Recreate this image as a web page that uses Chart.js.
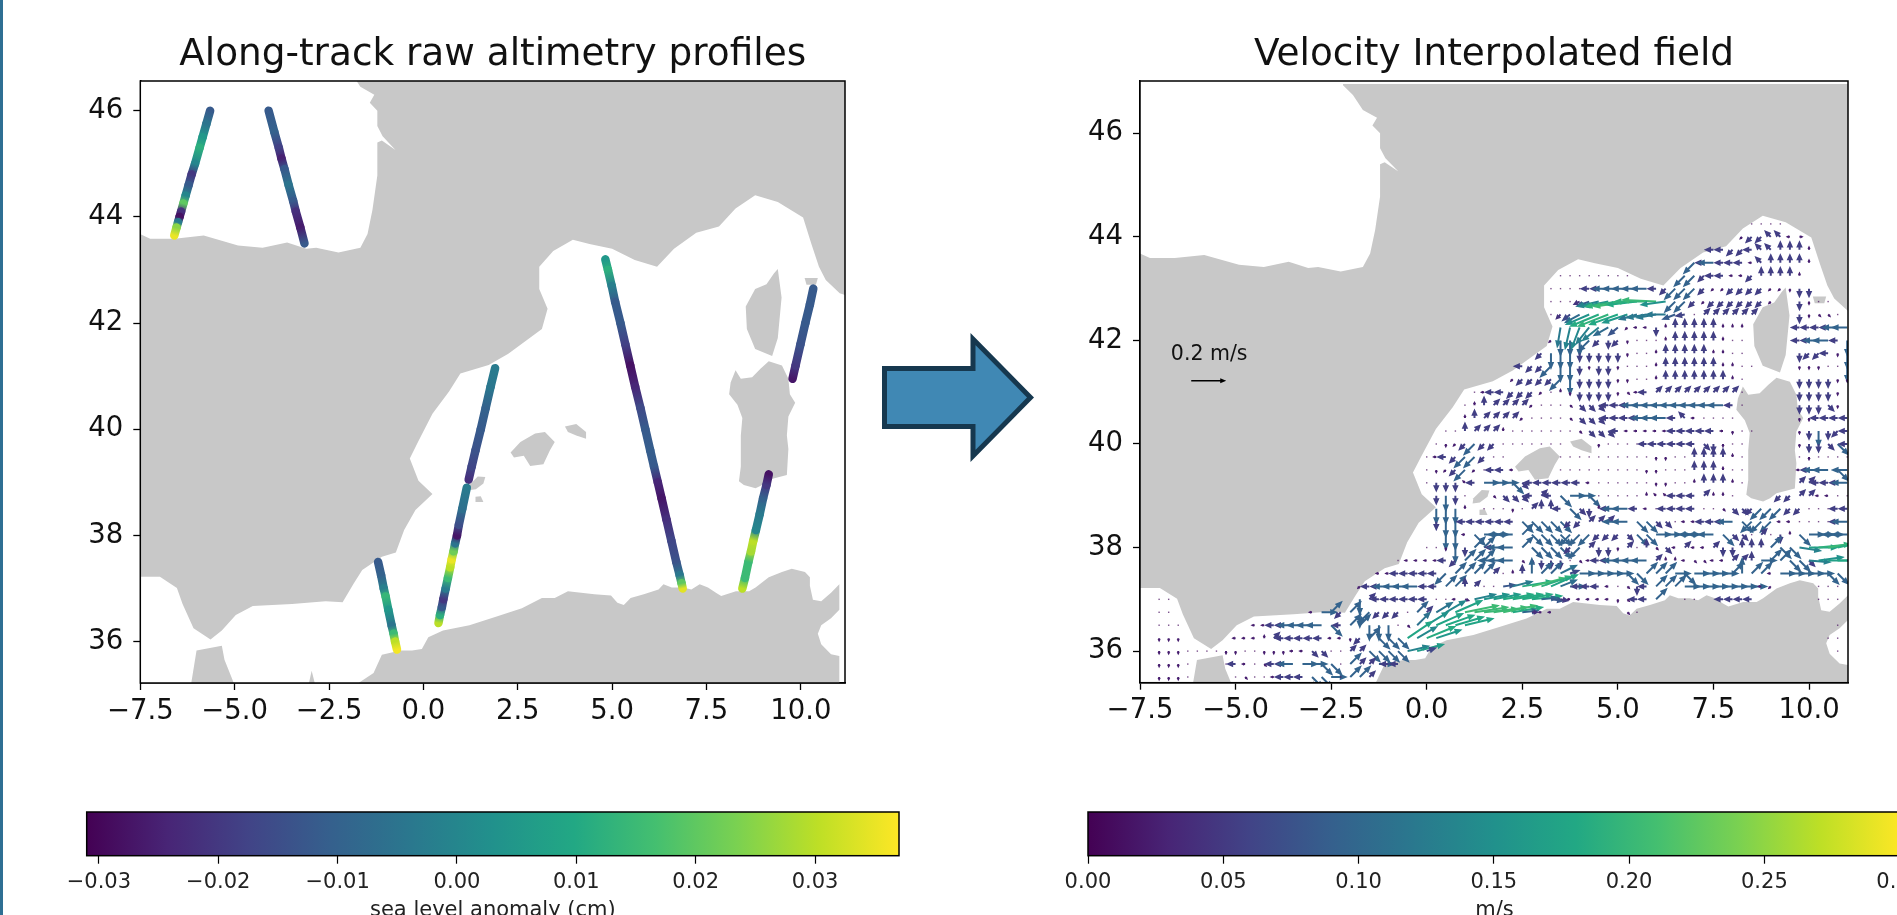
<!DOCTYPE html>
<html><head><meta charset="utf-8">
<style>
html,body{margin:0;padding:0;background:#fff;width:1897px;height:915px;overflow:hidden;position:relative}
canvas{position:absolute;filter:blur(0.6px)}
#mapR{filter:blur(0.75px)}
#edge{position:absolute;left:0;top:0;width:3px;height:915px;background:#2f6f93}
svg{position:absolute;left:0;top:0}
</style>
<script src="https://cdn.jsdelivr.net/npm/chart.js@4"></script>
</head><body>
<div id="edge"></div>
<canvas id="mapL"></canvas><canvas id="mapR"></canvas><canvas id="barL"></canvas><canvas id="barR"></canvas>
<svg width="1897" height="915"><path d="M884.5 368.5H973V339L1030.5 397.5L973 456V426.5H884.5Z" fill="#4088b4" stroke="#16384f" stroke-width="5"/></svg>
<script>
// ---------- text and ticks
const titleLeft = "Along-track raw altimetry profiles";
const titleRight = "Velocity Interpolated field";
const unitLeft = "sea level anomaly (cm)";
const unitRight = "m/s";
const lonTicks = [-7.5,-5,-2.5,0,2.5,5,7.5,10];
const latTicks = [36,38,40,42,44,46];
const slaTicks = [-0.03,-0.02,-0.01,0,0.01,0.02,0.03];
const speedTicks = [0,0.05,0.1,0.15,0.2,0.25,0.3];

// ---------- along-track profiles: lon, lat, sea level anomaly
const t1Lon=[-5.65,-5.75,-5.85,-5.93,-6.05,-6.14,-6.22,-6.30,-6.36,-6.42,-6.46,-6.5,-6.54,-6.6];
const t1Lat=[46,45.75,45.5,45.3,45,44.8,44.6,44.4,44.25,44.1,44,43.9,43.8,43.65];
const t1Sla=[-.012,-.005,.005,.012,0,-.02,-.012,0,.02,-.022,-.028,-.003,.025,.035];
const t2Lon=[-4.1,-3.95,-3.83,-3.76,-3.68,-3.57,-3.45,-3.38,-3.26,-3.15];
const t2Lat=[46,45.6,45.3,45.1,44.9,44.6,44.3,44.1,43.8,43.5];
const t2Sla=[-.012,-.01,-.018,-.025,-.012,-.005,-.012,-.022,-.026,-.012];
const t3Lon=[-1.2,-1.12,-1.05,-1,-.93,-.84,-.79,-.75,-.7];
const t3Lat=[37.5,37.25,37,36.85,36.6,36.3,36.15,36,35.85];
const t3Sla=[-.012,-.01,-.002,.014,.005,-.005,.015,.03,.036];
const t4Lon=[.4,.44,.49,.53,.59,.65,.71,.75,.8,.84,.89,.94,1.03,1.15];
const t4Lat=[36.35,36.5,36.65,36.8,37,37.2,37.4,37.55,37.7,37.85,38,38.2,38.5,38.9];
const t4Sla=[.03,.012,-.012,-.02,-.003,.015,.03,.035,.022,-.005,-.027,-.015,-.006,-.003];
const t5Lon=[1.2,1.28,1.38,1.52,1.65,1.78,1.9];
const t5Lat=[39.05,39.3,39.6,40,40.4,40.8,41.15];
const t5Sla=[-.022,-.017,-.014,-.012,-.01,-.004,-.003];
const t6Lon=[4.82,4.89,4.99,5.08,5.22,5.35,5.48,5.61,5.75,5.88,6.01,6.11,6.21,6.31,6.44,6.57,6.70,6.79,6.84,6.87];
const t6Lat=[43.2,43,42.7,42.4,42,41.6,41.2,40.8,40.4,40,39.6,39.3,39,38.7,38.3,37.9,37.5,37.25,37.1,37];
const t6Sla=[.005,.012,-.002,-.012,-.012,-.018,-.028,-.024,-.016,-.012,-.011,-.012,-.024,-.027,-.022,-.017,-.014,-.004,.02,.034];
const t7Lon=[8.45,8.52,8.61,8.68,8.74,8.81,8.91,9,9.09,9.15];
const t7Lat=[37,37.2,37.5,37.7,37.9,38.1,38.4,38.7,38.95,39.15];
const t7Sla=[.03,.015,.015,.028,.03,0,-.003,-.01,-.02,-.028];
const t8Lon=[9.78,9.86,9.99,10.12,10.24,10.33];
const t8Lat=[40.95,41.2,41.6,42,42.35,42.65];
const t8Sla=[-.027,-.02,-.014,-.012,-.012,-.012];
const tracks=[[t1Lon,t1Lat,t1Sla],[t2Lon,t2Lat,t2Sla],[t3Lon,t3Lat,t3Sla],[t4Lon,t4Lat,t4Sla],[t5Lon,t5Lat,t5Sla],[t6Lon,t6Lat,t6Sla],[t7Lon,t7Lat,t7Sla],[t8Lon,t8Lat,t8Sla]];

// ---------- coastlines (lon,lat): white water drawn over the grey land
const landBlock=[[-7.6,35],[11.02,35],[11.02,42.5],[11.3,42.5],[11.3,46.95],[-7.6,46.95]];
const biscaySea=[[-7.6,47.1],[-2.19,47.1],[-2.19,46.93],[-1.93,46.74],[-1.67,46.45],[-1.3,46.3],[-1.42,46.15],[-1.22,46.0],[-1.22,45.71],[-1.08,45.52],[-.74,45.26],[-1.1,45.44],[-1.22,45.4],[-1.22,44.78],[-1.35,44.13],[-1.48,43.68],[-1.67,43.42],[-2.25,43.33],[-2.84,43.42],[-3.1,43.4],[-3.61,43.52],[-4.26,43.42],[-4.91,43.46],[-5.82,43.65],[-6.59,43.59],[-7.24,43.59],[-7.6,43.71]];
const medSea=[[-7.6,37.22],[-6.98,37.22],[-6.53,37.01],[-6.38,36.71],[-6.09,36.25],[-5.64,36.04],[-5.34,36.21],[-4.97,36.5],[-4.52,36.67],[-3.48,36.71],[-2.59,36.76],[-2.14,36.74],[-1.85,37.09],[-1.62,37.35],[-1.1,37.6],[-.73,37.68],[-.51,38.1],[-.21,38.48],[.24,38.78],[-.13,39.03],[-.36,39.45],[-.13,39.78],[.24,40.29],[.68,40.71],[.98,41.05],[1.73,41.21],[2.25,41.42],[3.14,41.89],[3.29,42.27],[3.07,42.64],[3.07,43.06],[3.44,43.36],[3.96,43.57],[4.4,43.49],[5,43.4],[5.6,43.19],[6.19,43.06],[6.64,43.4],[7.23,43.7],[7.83,43.82],[8.27,44.16],[8.79,44.41],[9.39,44.28],[10.06,43.99],[10.28,43.49],[10.48,43.06],[10.66,42.81],[11.03,42.56],[11.3,42.5],[11.3,37.1],[11.02,37.08],[10.8,36.92],[10.54,36.76],[10.32,36.79],[10.24,37.05],[10.24,37.21],[10.11,37.31],[9.76,37.37],[9.5,37.31],[9.15,37.21],[8.8,37.02],[8.63,36.95],[8.28,36.95],[7.89,36.86],[7.75,36.92],[7.54,37.02],[7.32,37.08],[7.1,36.98],[6.88,37.02],[6.58,37.02],[6.36,37.08],[6.23,36.98],[5.84,36.89],[5.49,36.82],[5.31,36.69],[5.14,36.73],[4.97,36.87],[4.53,36.89],[3.83,36.95],[3.48,36.82],[3.14,36.82],[2.61,36.63],[1.92,36.47],[1.22,36.31],[.52,36.21],[.13,36.08],[-.04,35.86],[-.3,35.83],[-.61,35.83],[-1.1,35.75],[-1.32,35.41],[-1.7,35.23],[-1.8,35],[-2.8,35],[-2.96,35.45],[-3.1,35],[-4.9,35],[-5.27,35.66],[-5.34,35.92],[-6.01,35.83],[-6.2,35],[-7.6,35]];
const hammametSea=[[11.3,36.6],[11.02,36.6],[10.8,36.44],[10.54,36.31],[10.45,36.15],[10.54,35.95],[10.8,35.76],[11.02,35.73],[11.3,35.73]];
const corsica=[[9.39,43.02],[9.49,42.48],[9.39,41.72],[9.24,41.38],[8.79,41.51],[8.57,41.89],[8.54,42.31],[8.79,42.64],[9.09,42.73],[9.29,42.94]];
const sardinia=[[9.15,41.28],[9.5,41.2],[9.67,40.95],[9.71,40.66],[9.85,40.5],[9.67,40.24],[9.63,39.88],[9.67,39.63],[9.63,39.14],[9.15,39.05],[8.98,38.95],[8.8,38.89],[8.49,38.95],[8.36,39.02],[8.41,39.3],[8.41,39.88],[8.45,40.21],[8.32,40.46],[8.1,40.66],[8.14,40.88],[8.27,41.11],[8.41,40.95],[8.71,40.98],[8.93,41.14]];
const mallorca=[[2.31,39.56],[2.57,39.76],[2.96,39.92],[3.22,39.95],[3.48,39.76],[3.35,39.6],[3.18,39.34],[2.83,39.31],[2.66,39.5],[2.4,39.47]];
const menorca=[[3.75,40.05],[4.05,40.1],[4.31,39.95],[4.31,39.82],[4.05,39.88],[3.83,39.95]];
const ibiza=[[1.22,38.95],[1.44,39.11],[1.64,39.1],[1.59,38.98],[1.39,38.87],[1.2,38.85]];
const formentera=[[1.38,38.73],[1.52,38.74],[1.59,38.63],[1.38,38.63]];
const elba=[[10.1,42.85],[10.45,42.85],[10.4,42.72],[10.15,42.72]];
const waterShapes=[biscaySea,medSea,hammametSea];
const islandShapes=[corsica,sardinia,mallorca,menorca,ibiza,formentera,elba];

// ---------- velocity field, read cell by cell on the 0.25 degree grid
// Each row: latitude, first longitude, one code per cell (space = no arrow, "." = almost still).
// Letter order within a group of 8 = E NE N NW W SW S SE.
const codeWeak="abcdefgh", codeMid="ijklmnop", codeFast="qrstuvwx", codeJet="ABCDEFGH";
const speedWeak=.024, speedMid=.055, speedFast=.095, speedJet=.17, speedStill=.007;
const quiverRows=[
[44.25,8.5,"...."],
[44,8.25,"fnnllea"],
[43.75,7.5,"mmnnmllkkkc"],
[43.5,7,"vmummmelkkkkc"],
[43.25,3.5,"........     vvnmmeenkkkkc"],
[43,3.25,"....mmuuuuumnvvvnffnnnnffgoo"],
[42.75,3.25,"...          vvnfnnnnnnf  og.."],
[42.5,3.25,"."],[42.5,7,".jjjjjj"],[42.5,9.75,"oghh."],
[42.25,5.25,"feeockkkkkccc"],[42.25,9.75,"mmmmuu"],
[42,3.25,"fwwwvnong...ckkkkkc.."],[42,9.75,"mmuumw"],
[41.75,3,"nwwwooooog..ckkkkkcc.."],[41.75,9.75,"onnmgw"],
[41.5,2.5,"mnnvwwogoog...ckkkkkkcc.."],[41.5,9.75,"ggg..w"],
[41.25,2.25,"fnnnnvwoooogg..ckkkkkkkc."],[41.25,9.75,"oooogg"],
[41,1.25,".emmnnnf.cgooooghemjjjjjjjjj."],[41,9.75,"oooog"],
[40.75,1,".ckjjjjf...hpppmmmuuuuuuuuuum."],[40.75,9.75,"ooopg"],
[40.5,1,"ckjjjjf....hpppmmmmuuumle...."],[40.5,9.75,"ggmmmm"],
[40.25,.5,"..kjjjc.......hpppmeeeeemmmmmeg.."],[40.25,9.75,"gowonm"],
[40,.25,".gfnvnn.......   g....mmmmmmpog.."],[40,9.75,"goopxm"],
[39.75,0,".emnvvn..     ..........gg..kkkkc."],[39.75,9.75,".g...."],
[39.5,0,".gfnvf.mme    .........gg...kkkc.."],[39.5,9.75,"emuuxu"],
[39.25,0,".ooodmqqqxpmmmmmme......gg..ckkkc."],[39.25,9.75,"jjmmmu"],
[39,.25,"owo.  hpppmjmxqqx.....cddmmmjcc."],[39,9.25,"nnjjee.."],
[38.75,.25,"wwwc ...g.jkkmxpocmuume.mmmm..hppnvvvnn...mm"],
[38.5,.25,"owwmmmmmmxxxxxnnjjjuuxxpp.eemmmuxvvvee....mu"],
[38.25,.5,"wwexqquurxxxxvvvnnnpxxqqqquuuxpp.j.ocxqqquu"],
[38,0,"..gworrmuurxxxxnvjoogj.khpejeejookkkrxx"],
[37.75,-.75,".eeeemnrrruuuhhooo.hemmuuuujccehheejjkqrrxxp"],
[37.5,-1.25,"eemmmmmvrrrrj.cksrr  qqqqqxxrrrqxqqqqrsrreqqqqqxx"],
[37.25,-1.75,"fmmuuuummrrkj..       qmmme.homrrrqqqqqqqqef    ..."],
[37,-7,"..                   wjmmmmmm..e           eeeeeghmmr  ..  mmmm      ..."],
[36.75,-7,"..              eqrnrwvnnn.rj           ee       h."],
[36.5,-7,"...       eemmuuuuxmrrwww.h"],[36.5,10.75,"."],
[36.25,-7,"ggg     eeecjmmmmmeegnrxxx"],[36.25,10.5,".."],
[36,-7,"ggg....gg..gggeepp..jjxxxx"],[36,10.75,"."],
[35.75,-7,"ggg.   .me.hmmuqqxx.rjjqmm"],
[35.5,-7,"ggg.    .h..emmmxxq.rrj"]
];
// Long arrows of the fast jets: lon, lat, u, v (m/s)
const jetArrows=[
[4,42.75,-.04,-.02],[4.25,42.75,-.08,-.03],[4.5,42.75,-.13,-.03],[4.75,42.75,-.15,-.03],[5,42.75,-.19,-.03],[5.25,42.75,-.2,-.03],[5.5,42.75,-.18,-.02],[5.75,42.75,-.19,0],[6,42.75,-.2,.01],[6.25,42.75,-.15,-.02],
[3.5,42.5,-.03,-.03],[3.75,42.5,-.05,-.04],[4,42.5,-.09,-.05],[4.25,42.5,-.14,-.06],[4.5,42.5,-.17,-.07],[4.75,42.5,-.18,-.07],[5,42.5,-.17,-.06],[5.25,42.5,-.15,-.05],[5.5,42.5,-.11,-.03],[5.75,42.5,-.12,-.02],[6,42.5,-.12,-.02],[6.25,42.5,-.12,0],[6.5,42.5,-.08,-.03],[6.75,42.5,-.06,-.01],
[3.5,42.25,-.02,-.12],[3.75,42.25,-.03,-.13],[4,42.25,-.05,-.13],[4.25,42.25,-.08,-.1],[4.5,42.25,-.1,-.08],[4.75,42.25,-.09,-.05],[5,42.25,-.06,-.05],
[9.75,38,.13,-.02],[10,38,.17,0],[10.25,38,.19,.02],[10.5,38,.2,.03],[10.75,38,.18,.04],
[10,37.75,.13,-.01],[10.25,37.75,.15,.02],[10.5,37.75,.17,0],[10.75,37.75,.18,0],[11,37.75,.05,0],
[3.5,37.5,.1,.05],[3.75,37.5,.06,.02],
[2,37.25,.08,.01],[2.25,37.25,.12,.03],[2.5,37.25,.18,.03],[2.75,37.25,.2,.05],[3,37.25,.18,.06],[3.25,37.25,.16,.07],[3.5,37.25,.1,.04],
[1,37,.03,-.01],[1.25,37,.13,.03],[1.5,37,.15,.03],[1.75,37,.16,.03],[2,37,.18,.03],[2.25,37,.18,.03],[2.5,37,.18,.03],[2.75,37,.18,.02],[3,37,.1,.01],[3.25,37,.08,-.01],[3.5,37,.05,-.01],
[.25,36.75,.1,.06],[.5,36.75,.12,.07],[.75,36.75,.16,.07],[1,36.75,.2,.04],[1.25,36.75,.2,.03],[1.5,36.75,.2,.02],[1.75,36.75,.2,.03],[2,36.75,.2,.04],[2.25,36.75,.18,.03],[2.5,36.75,.1,.01],[2.75,36.75,.04,0],
[-.25,36.5,.08,.08],[0,36.5,.13,.08],[.25,36.5,.16,.07],[.5,36.5,.17,.06],[.75,36.5,.17,.05],[1,36.5,.17,.04],
[-.5,36.25,.147,.1],[-.25,36.25,.12,.07],[0,36.25,.17,.07],[.25,36.25,.15,.05],
[-.5,36,.13,.03],[-.25,36,.16,.04],[0,36,.06,.02]
];
const keyLon=-6.16, keyLat=41.22, keySpeed=0.2, keyTextLon=-5.69, keyTextLat=41.72, keyLabel="0.2 m/s";

// ---------- styles
const FONT="'DejaVu Sans'";
const LAND="#c8c8c8";
const viridisStops=["#440154","#482576","#414487","#35608d","#2a788e","#21918c","#22a884","#44bf70","#7ad151","#bddf26","#fde725"];
function viridis(t){
  t=Math.max(0,Math.min(1,t))*(viridisStops.length-1);
  const i=Math.min(Math.floor(t),viridisStops.length-2),f=t-i;
  const h=s=>[1,3,5].map(k=>parseInt(s.substr(k,2),16));
  const a=h(viridisStops[i]),b=h(viridisStops[i+1]);
  return `rgb(${a.map((v,k)=>Math.round(v+(b[k]-v)*f)).join(",")})`;
}
const SLA_MIN=-0.03102, SLA_MAX=0.03703, SPEED_MIN=0, SPEED_MAX=0.3005, QUIVER_PX=175;
const slaNorm=v=>(v-SLA_MIN)/(SLA_MAX-SLA_MIN);
const minus=s=>String(s).replace("-","\u2212");

function decodeQuiver(){
  const out=[];
  const dirs=[[1,0],[.7,.7],[0,1],[-.7,.7],[-1,0],[-.7,-.7],[0,-1],[.7,-.7]];
  const groups=[[codeWeak,speedWeak],[codeMid,speedMid],[codeFast,speedFast],[codeJet,speedJet]];
  for(const [lat,lon0,codes] of quiverRows){
    [...codes].forEach((c,i)=>{
      if(c===" ")return;
      const x=lon0+i*.25;
      if(c==="."){out.push({x,y:lat,u:speedStill,v:0});return;}
      for(const [g,s] of groups){const k=g.indexOf(c);if(k>=0){out.push({x,y:lat,u:dirs[k][0]*s,v:dirs[k][1]*s});return;}}
    });
  }
  for(const [x,y,u,v] of jetArrows)out.push({x,y,u,v});
  return out;
}

function arrow(ctx,x,y,dx,dy,shaft,headW,headL){
  const len=Math.hypot(dx,dy); if(len<.01)return;
  const hl=Math.min(headL,len*.75),hw=Math.min(headW,Math.max(shaft,len*.75));
  ctx.save();ctx.translate(x,y);ctx.rotate(Math.atan2(dy,dx));
  ctx.beginPath();ctx.moveTo(0,-shaft/2);ctx.lineTo(len-hl,-shaft/2);ctx.lineTo(len-hl,-hw/2);ctx.lineTo(len,0);ctx.lineTo(len-hl,hw/2);ctx.lineTo(len-hl,shaft/2);ctx.lineTo(0,shaft/2);ctx.closePath();ctx.fill();ctx.restore();
}

const landPlugin={id:"land",beforeDatasetsDraw(chart){
  const {ctx,chartArea:a,scales:{x,y}}=chart;
  const poly=(pts,fill)=>{ctx.beginPath();pts.forEach(([lo,la],i)=>{const X=x.getPixelForValue(lo),Y=y.getPixelForValue(la);i?ctx.lineTo(X,Y):ctx.moveTo(X,Y);});ctx.closePath();ctx.fillStyle=fill;ctx.fill();};
  ctx.save();ctx.beginPath();ctx.rect(a.left,a.top,a.width,a.height);ctx.clip();
  poly(landBlock,LAND);
  waterShapes.forEach(p=>poly(p,"#fff"));
  islandShapes.forEach(p=>poly(p,LAND));
  ctx.restore();
}};
const framePlugin={id:"frame",afterDraw(chart){
  const {ctx,chartArea:a}=chart;ctx.save();ctx.strokeStyle="#000";ctx.lineWidth=1.5;ctx.strokeRect(a.left,a.top,a.width,a.height);ctx.restore();
}};
const quiverPlugin={id:"quiver",afterDatasetsDraw(chart){
  const {ctx,chartArea:a,scales:{x,y}}=chart;
  ctx.save();ctx.beginPath();ctx.rect(a.left,a.top,a.width,a.height);ctx.clip();
  for(const p of chart.data.datasets[0].data){
    const s=Math.hypot(p.u,p.v);
    ctx.fillStyle=viridis(s/.3);
    const X=x.getPixelForValue(p.x),Y=y.getPixelForValue(p.y);
    if(s<.01){ctx.globalAlpha=.7;ctx.fillRect(X-.7,Y-.7,1.4,1.4);ctx.globalAlpha=1;continue;}
    arrow(ctx,X,Y,p.u*QUIVER_PX,-p.v*QUIVER_PX,2,6.5,8);
  }
  ctx.fillStyle="#000";
  arrow(ctx,x.getPixelForValue(keyLon),y.getPixelForValue(keyLat),keySpeed*QUIVER_PX,0,1.6,5,6);
  ctx.font=`20.5px ${FONT}`;ctx.textAlign="center";ctx.textBaseline="middle";ctx.fillStyle="#111";
  ctx.fillText(keyLabel,x.getPixelForValue(keyTextLon),y.getPixelForValue(keyTextLat));
  ctx.restore();
}};
const barPlugin={id:"bar",beforeDatasetsDraw(chart){
  const {ctx,chartArea:a}=chart;
  const g=ctx.createLinearGradient(a.left,0,a.right,0);
  viridisStops.forEach((c,i)=>g.addColorStop(i/(viridisStops.length-1),c));
  ctx.fillStyle=g;ctx.fillRect(a.left,a.top,a.width,a.height);
}};

function place(id,l,t,w,h){const c=document.getElementById(id);c.width=w;c.height=h;c.style.left=l+"px";c.style.top=t+"px";c.style.width=w+"px";c.style.height=h+"px";return c;}

function mapChart(id,box,xr,yr,title,datasets,plugins){
  const canvasW=box.right+(id==="mapR"?60:40)-box.canvasLeft, canvasH=770;
  const c=place(id,box.canvasLeft,0,canvasW,canvasH);
  return new Chart(c,{type:"scatter",data:{datasets},plugins:[landPlugin,framePlugin,...plugins],options:{
    responsive:false,animation:false,devicePixelRatio:1,
    layout:{padding:{left:0,right:canvasW-(box.right-box.canvasLeft),top:0,bottom:0}},
    plugins:{legend:{display:false},tooltip:{enabled:false},
      title:{display:true,text:title,fullSize:false,color:"#111",font:{family:FONT,size:37.4,weight:"normal",lineHeight:1.2},padding:{top:box.top-44.88-3,bottom:3}}},
    scales:{
      x:{type:"linear",min:xr[0],max:xr[1],afterBuildTicks:s=>{s.ticks=lonTicks.map(v=>({value:v}));},afterFit:s=>{s.height=canvasH-box.bottom;},
        grid:{display:true,drawOnChartArea:false,drawTicks:true,tickLength:7,tickColor:"#000",tickWidth:1.3},border:{display:true,color:"#000",width:1.5},
        ticks:{color:"#111",font:{family:FONT,size:27.5},padding:5,maxRotation:0,autoSkip:false,callback:v=>minus(v.toFixed(1))}},
      y:{type:"linear",min:yr[0],max:yr[1],afterBuildTicks:s=>{s.ticks=latTicks.map(v=>({value:v}));},afterFit:s=>{s.width=box.left-box.canvasLeft;},
        grid:{display:true,drawOnChartArea:false,drawTicks:true,tickLength:7,tickColor:"#000",tickWidth:1.3},border:{display:true,color:"#000",width:1.5},
        ticks:{color:"#111",font:{family:FONT,size:27.5},padding:10,autoSkip:false,callback:v=>String(v)}}
    }}});
}

const trackDatasets=tracks.map(([lo,la,s])=>({
  data:lo.map((v,i)=>({x:v,y:la[i],sla:s[i]})),showLine:true,pointRadius:0,borderWidth:8.5,borderCapStyle:"round",borderJoinStyle:"round",tension:0,borderColor:viridis(slaNorm(s[0])),
  segment:{borderColor:ctx=>{
    const g=ctx.chart.ctx.createLinearGradient(ctx.p0.x,ctx.p0.y,ctx.p1.x,ctx.p1.y);
    g.addColorStop(0,viridis(slaNorm(s[ctx.p0DataIndex])));g.addColorStop(1,viridis(slaNorm(s[ctx.p1DataIndex])));return g;}}
}));

mapChart("mapL",{canvasLeft:0,left:140.3,right:845,top:81,bottom:683},[-7.5,11.17],[35.22,46.56],titleLeft,trackDatasets,[]);
mapChart("mapR",{canvasLeft:1000,left:1140,right:1848.4,top:81,bottom:682.7},[-7.5,11.02],[35.39,47.01],titleRight,[{data:decodeQuiver(),pointRadius:0,showLine:false}],[quiverPlugin]);

function barChart(id,cl,w,left,right,mn,mx,ticks,label){
  const H=143, T=32;
  const c=place(id,cl,780,w,H);
  return new Chart(c,{type:"scatter",data:{datasets:[]},plugins:[barPlugin,framePlugin],options:{
    responsive:false,animation:false,devicePixelRatio:1,
    layout:{padding:{left:left-cl,right:w-(right-cl),top:T,bottom:0}},
    plugins:{legend:{display:false},tooltip:{enabled:false}},
    scales:{
      y:{display:false,min:0,max:1},
      x:{type:"linear",min:mn,max:mx,afterBuildTicks:s=>{s.ticks=ticks.map(v=>({value:v}));},afterFit:s=>{s.height=H-T-43.7;},
        grid:{display:true,drawOnChartArea:false,drawTicks:true,tickLength:8,tickColor:"#000",tickWidth:1.2},border:{display:false},
        ticks:{color:"#222",font:{family:FONT,size:21},padding:6,maxRotation:0,autoSkip:false,callback:v=>minus(v.toFixed(2))},
        title:{display:true,text:label,color:"#222",font:{family:FONT,size:21},padding:{top:0,bottom:0}}}
    }}});
}
barChart("barL",0,1000,86.7,899,SLA_MIN,SLA_MAX,slaTicks,unitLeft);
barChart("barR",960,1000,1088,1901,SPEED_MIN,SPEED_MAX,speedTicks,unitRight);
</script>
</body></html>
